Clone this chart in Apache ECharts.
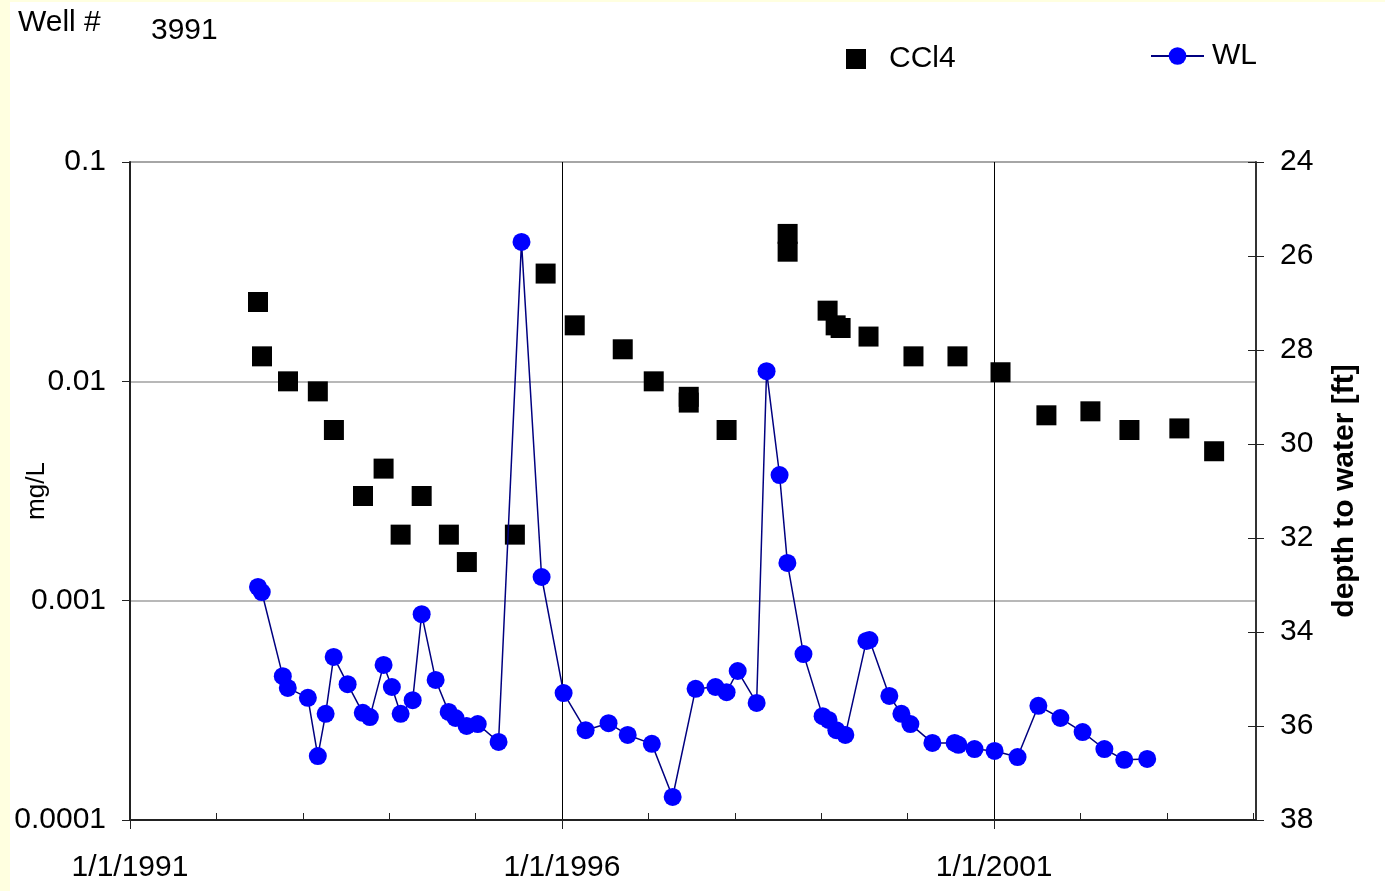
<!DOCTYPE html>
<html>
<head>
<meta charset="utf-8">
<script src="https://cdn.jsdelivr.net/npm/echarts@6/dist/echarts.min.js"></script>
<style>
  html, body { margin: 0; padding: 0; background: #ffffff; }
  #chart { width: 1385px; height: 891px; }
</style>
</head>
<body>
<div id="chart"></div>
<script>
// Carbon tetrachloride samples (mg/L)
const ccl4Dates = [
  '1992-06-25', '1992-07-12', '1992-10-30', '1993-03-05', '1993-05-12',
  '1993-09-12', '1993-12-08', '1994-02-18', '1994-05-18', '1994-09-10',
  '1994-11-25', '1995-06-16', '1995-10-24', '1996-02-24', '1996-09-14',
  '1997-01-23', '1997-06-20', '1997-06-20', '1997-11-27', '1998-08-12',
  '1998-08-12', '1999-01-28', '1999-03-03', '1999-03-24', '1999-07-20',
  '2000-01-26', '2000-07-30', '2001-01-28', '2001-08-10', '2002-02-12',
  '2002-07-27', '2003-02-23', '2003-07-20'
];
const ccl4Values = [
  0.023, 0.013, 0.010, 0.009, 0.006,
  0.003, 0.004, 0.002, 0.003, 0.002,
  0.0015, 0.002, 0.031, 0.018, 0.014,
  0.010, 0.0085, 0.008, 0.006, 0.047,
  0.039, 0.021, 0.018, 0.0175, 0.016,
  0.013, 0.013, 0.011, 0.007, 0.0073,
  0.006, 0.0061, 0.0048
];

// Water level readings (depth to water, ft)
const wlDates = [
  '1992-06-25', '1992-07-11', '1992-10-08', '1992-10-29', '1993-01-22',
  '1993-03-05', '1993-04-07', '1993-05-11', '1993-07-09', '1993-09-11',
  '1993-10-11', '1993-12-08', '1994-01-12', '1994-02-18', '1994-04-10',
  '1994-05-18', '1994-07-16', '1994-09-09', '1994-10-08', '1994-11-24',
  '1995-01-10', '1995-04-08', '1995-07-14', '1995-10-07', '1996-01-08',
  '1996-04-10', '1996-07-16', '1996-10-05', '1997-01-15', '1997-04-13',
  '1997-07-19', '1997-10-11', '1997-11-27', '1998-01-13', '1998-04-03',
  '1998-05-15', '1998-07-09', '1998-08-11', '1998-10-18', '1999-01-07',
  '1999-02-01', '1999-03-06', '1999-04-13', '1999-07-11', '1999-07-24',
  '1999-10-16', '1999-12-06', '2000-01-13', '2000-04-15', '2000-07-18',
  '2000-08-03', '2000-10-10', '2001-01-03', '2001-04-10', '2001-07-07',
  '2001-10-08', '2002-01-10', '2002-04-12', '2002-07-05', '2002-10-10'
];
const wlDepth = [
  33.04, 33.15, 34.94, 35.19, 35.40,
  36.64, 35.74, 34.53, 35.11, 35.72,
  35.81, 34.70, 35.17, 35.74, 35.45,
  33.62, 35.02, 35.70, 35.83, 36.00,
  35.96, 36.34, 25.70, 32.83, 35.30,
  36.09, 35.94, 36.19, 36.38, 37.51,
  35.21, 35.17, 35.28, 34.83, 35.51,
  28.45, 30.66, 32.53, 34.47, 35.79,
  35.87, 36.09, 36.19, 34.19, 34.17,
  35.36, 35.74, 35.96, 36.36, 36.36,
  36.40, 36.49, 36.53, 36.66, 35.57,
  35.83, 36.13, 36.49, 36.72, 36.70
];

// Date axis: labelled years and the unlabelled yearly ticks between them
const majorYears = [1991, 1996, 2001];
const minorYears = [1992, 1993, 1994, 1995, 1997, 1998, 1999, 2000, 2002, 2003, 2004];
const axisStart = '1991-01-01';
const axisEnd = '2004-01-13';

const ORIGIN = Date.parse(axisStart);
const DAY = 86400000;
const dayIndex = s => (Date.parse(s) - ORIGIN) / DAY;
const yearIndex = y => (Date.UTC(y, 0, 1) - ORIGIN) / DAY;
const dateLabel = v => {
  const d = new Date(ORIGIN + Math.round(v) * DAY);
  return (d.getUTCMonth() + 1) + '/' + d.getUTCDate() + '/' + d.getUTCFullYear();
};

const ccl4Data = ccl4Dates.map((d, i) => [dayIndex(d), ccl4Values[i]]);
const wlData = wlDates.map((d, i) => [dayIndex(d), wlDepth[i]]);
const majorDays = majorYears.map(yearIndex);
const minorDays = minorYears.map(yearIndex);

const FONT = "'Liberation Sans', Arial, sans-serif";
const FS = 30;
const chart = echarts.init(document.getElementById('chart'), null, { renderer: 'canvas' });

chart.setOption({
  animation: false,
  backgroundColor: '#ffffff',
  textStyle: { fontFamily: FONT },
  graphic: [
    { type: 'rect', shape: { x: 0, y: 0, width: 10, height: 891 }, style: { fill: '#ffffe0' }, silent: true, z: -10 },
    { type: 'rect', shape: { x: 0, y: 0, width: 1385, height: 2 }, style: { fill: '#ffffe0' }, silent: true, z: -10 },
    { type: 'text', left: 18, top: 8, style: { text: 'Well #', font: FS + 'px ' + FONT, fill: '#000' } },
    { type: 'text', left: 151, top: 16, style: { text: '3991', font: FS + 'px ' + FONT, fill: '#000' } }
  ],
  legend: [
    {
      data: [{ name: 'CCl4', icon: 'rect' }],
      left: 846, top: 44,
      padding: 0,
      itemWidth: 20, itemHeight: 20,
      textStyle: { fontSize: FS, color: '#000', fontFamily: FONT, padding: [6, 0, 0, 18] },
      selectedMode: false
    },
    {
      data: ['WL'],
      left: 1150, top: 41,
      padding: 0,
      itemWidth: 53, itemHeight: 22,
      textStyle: { fontSize: FS, color: '#000', fontFamily: FONT, padding: [6, 0, 0, 3] },
      selectedMode: false
    }
  ],
  grid: { left: 130, right: 129, top: 162, bottom: 71, containLabel: false, outerBoundsMode: 'none' },
  xAxis: [
    {
      type: 'value',
      min: 0,
      max: dayIndex(axisEnd),
      interval: 1826.25,
      position: 'bottom',
      axisLine: { show: true, onZero: false, lineStyle: { color: '#222', width: 2 } },
      axisTick: { show: true, inside: false, length: 9, customValues: majorDays, lineStyle: { color: '#222', width: 1 } },
      axisLabel: {
        show: true, customValues: majorDays, margin: 33,
        fontSize: FS, color: '#000', fontFamily: FONT,
        formatter: dateLabel
      },
      splitLine: { show: true, lineStyle: { color: '#000', width: 1 } }
    },
    {
      // yearly ticks pointing up into the plot from the bottom edge
      type: 'value',
      min: 0,
      max: dayIndex(axisEnd),
      position: 'bottom',
      axisLine: { show: false, onZero: false },
      axisTick: { show: true, inside: true, length: 7, customValues: minorDays, lineStyle: { color: '#222', width: 1 } },
      axisLabel: { show: false },
      splitLine: { show: false }
    }
  ],
  yAxis: [
    {
      type: 'log',
      logBase: 10,
      min: 0.0001,
      max: 0.1,
      position: 'left',
      name: 'mg/L',
      nameLocation: 'middle',
      nameRotate: 90,
      nameGap: 80,
      nameMoveOverlap: false,
      nameTextStyle: { fontSize: 26, color: '#000', fontFamily: FONT },
      axisLine: { show: true, onZero: false, lineStyle: { color: '#222', width: 2 } },
      axisTick: { show: true, inside: false, length: 8, lineStyle: { color: '#222' } },
      axisLabel: {
        fontSize: FS, color: '#000', margin: 24, fontFamily: FONT, padding: [6, 0, 0, 0],
        formatter: v => String(Number(v.toPrecision(1)))
      },
      splitLine: { show: true, lineStyle: { color: '#a0a0a0', width: 1.5 } }
    },
    {
      type: 'value',
      min: 24,
      max: 38,
      interval: 2,
      inverse: true,
      position: 'right',
      name: 'depth to water [ft]',
      nameLocation: 'middle',
      nameRotate: 90,
      nameGap: 74,
      nameMoveOverlap: false,
      nameTextStyle: { fontSize: FS, fontWeight: 'bold', color: '#000', fontFamily: FONT },
      axisLine: { show: true, onZero: false, lineStyle: { color: '#333', width: 2 } },
      axisTick: { show: true, inside: false, length: 8, lineStyle: { color: '#222' } },
      axisLabel: { fontSize: FS, color: '#000', margin: 24, fontFamily: FONT, padding: [6, 0, 0, 0] },
      splitLine: { show: false }
    },
    {
      // inner half of the depth ticks, on the right edge of the plot
      type: 'value',
      min: 24,
      max: 38,
      interval: 2,
      inverse: true,
      position: 'right',
      offset: 0,
      axisLine: { show: false, onZero: false },
      axisTick: { show: true, inside: true, length: 8, lineStyle: { color: '#222' } },
      axisLabel: { show: false },
      splitLine: { show: false }
    }
  ],
  series: [
    {
      name: 'CCl4',
      type: 'scatter',
      xAxisIndex: 0,
      yAxisIndex: 0,
      symbol: 'rect',
      symbolSize: 20,
      itemStyle: { color: '#000000', opacity: 1 },
      data: ccl4Data,
      z: 3
    },
    {
      name: 'WL',
      type: 'line',
      xAxisIndex: 0,
      yAxisIndex: 1,
      symbol: 'circle',
      symbolSize: 18,
      showAllSymbol: true,
      itemStyle: { color: '#0000ff' },
      lineStyle: { color: '#000080', width: 1.5 },
      data: wlData,
      z: 4
    }
  ]
});
</script>
</body>
</html>
